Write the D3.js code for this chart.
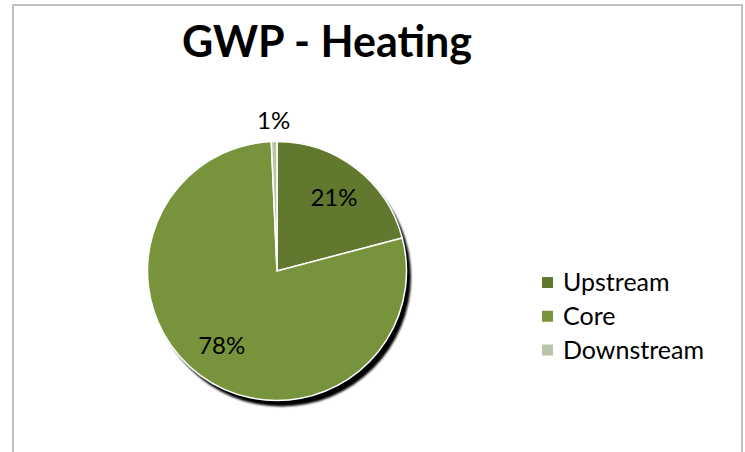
<!DOCTYPE html>
<html><head><meta charset="utf-8">
<script src="https://cdn.jsdelivr.net/npm/d3@7"></script>
<style>
body{margin:0;background:#fff}
svg{display:block}
text{font-family:Lato,"Open Sans",sans-serif;fill:#000}
</style>
</head><body>
<svg id="c" width="745" height="452"></svg>
<script>
const title = "GWP - Heating";
const categories = ["Upstream", "Core", "Downstream"];
const values = [20.9, 78.4, 0.7];
const valueLabels = ["21%", "78%", "1%"];
const colors = ["#60792f", "#77933c", "#b9c6a7"];

const svg = d3.select("#c");

// chart border
svg.append("rect").attr("x", 13).attr("y", 5).attr("width", 729).attr("height", 460)
  .attr("fill", "#fff").attr("stroke", "#bfbfbf").attr("stroke-width", 2);

// title
svg.append("text").attr("x", 327).attr("y", 57).attr("text-anchor", "middle")
  .style("font-weight", "bold").style("font-size", "43px").text(title);

const cx = 277, cy = 271, R = 129.5;
const g = svg.append("g").attr("transform", `translate(${cx},${cy})`);

const defs = svg.append("defs");
defs.append("filter").attr("id", "blur").attr("x", "-10%").attr("y", "-10%").attr("width", "120%").attr("height", "120%")
  .append("feGaussianBlur").attr("stdDeviation", 1);

const pie = d3.pie().sort(null).value(d => d).startAngle(0).endAngle(2 * Math.PI);
const arcs = pie(values);
const arc = d3.arc().innerRadius(0).outerRadius(R);

// shadow
g.append("path").attr("transform", "translate(4.5,6)")
  .attr("d", d3.arc().innerRadius(0).outerRadius(R)({startAngle: 0, endAngle: 2 * Math.PI}))
  .attr("fill", "#000").attr("filter", "url(#blur)");

g.selectAll("path.slice").data(arcs).enter().append("path").attr("class", "slice")
  .attr("d", arc).attr("fill", (d, i) => colors[i])
  .attr("stroke", "#fff").attr("stroke-width", 1.5).attr("stroke-linejoin", "round");

const inner = d3.arc().innerRadius(R * 0.72).outerRadius(R * 0.72);
const outer = d3.arc().innerRadius(R + 21).outerRadius(R + 21);
g.selectAll("text.lbl").data(arcs).enter().append("text").attr("class", "lbl")
  .attr("transform", d => {
    const frac = (d.endAngle - d.startAngle) / (2 * Math.PI);
    const p = frac < 0.03 ? outer.centroid(d) : inner.centroid(d);
    return `translate(${p[0]},${p[1]})`;
  })
  .attr("text-anchor", "middle").attr("dy", "0.35em")
  .style("font-size", "24px").text((d, i) => valueLabels[i]);

// legend
const ly = d3.scalePoint().domain(categories).range([282.5, 350]);
const lg = svg.append("g").selectAll("g").data(categories).enter().append("g")
  .attr("transform", d => `translate(542,${ly(d)})`);
lg.append("rect").attr("x", 0).attr("y", -5.5).attr("width", 11).attr("height", 11)
  .attr("fill", (d, i) => colors[i]);
lg.append("text").attr("x", 21).attr("y", 8.5).style("font-size", "25px").text(d => d);
</script>
</body></html>
